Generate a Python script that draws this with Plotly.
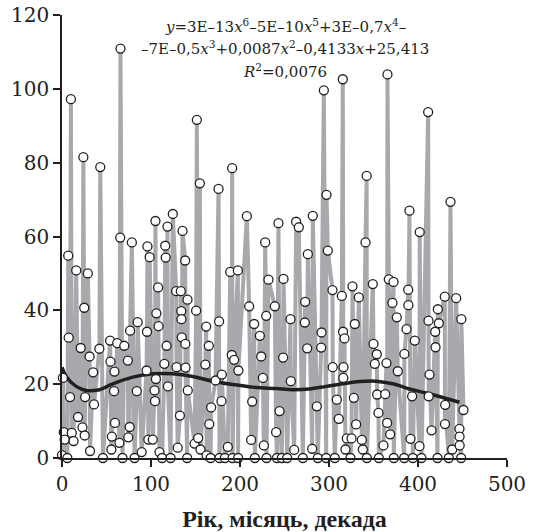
import plotly.graph_objects as go

x_vals = [0, 1, 2, 3, 6, 7, 7.5, 9, 10, 11, 13, 16, 18, 21, 23, 24, 25, 25.5, 26, 29, 31, 31.5, 35, 36, 42, 43, 46,
          54, 54.5, 55.5, 56, 58.5, 59, 59.5, 62, 64.5, 65.4, 65.7, 68, 70, 74, 74.5, 76, 76.5, 78.5, 81.5, 84, 85,
          89.5, 95, 95.5, 96, 97, 98.5, 102, 104, 104.5, 105, 105.5, 106, 108, 108.5, 109.5, 112.5, 115, 116, 116.5,
          117.5, 118.5, 119, 122, 124.5, 128.3, 128.7, 130, 132.5, 133.5, 134, 134.2, 134.5, 135.4, 138.4, 138.6,
          138.8, 140.6, 141, 141.3, 149, 150.7, 151.5, 153, 154.9, 155.6, 161, 162, 162.5, 165, 165.5, 167, 167.6,
          172.5, 175.9, 176.5, 177, 179.2, 179.6, 183, 186.3, 189, 190.8, 191.2, 191.6, 193.4, 197.6, 197.9, 198.2,
          207.7, 210.3, 212.5, 213.7, 215.9, 216.7, 222.3, 223.8, 225.7, 226.8, 228.3, 229.4, 229.8, 232, 239.1,
          240.6, 241.5, 243.2, 244.4, 247, 248.5, 248.9, 253, 256.7, 257.1, 260.9, 263.1, 266.1, 270.6, 272.8,
          273.2, 275.5, 276.2, 281.1, 281.8, 286.3, 287.4, 291.2, 291.6, 294.2, 296.8, 297.2, 298.7, 303.9, 304.2,
          306.5, 308.8, 311, 314.4, 315.5, 315.8, 316.1, 316.3, 317.4, 318.5, 320, 324.1, 325.3, 326.4, 327.9, 329,
          330.5, 333.5, 336.9, 338, 341, 342.3, 342.5, 349.2, 350, 351.5, 353.7, 354.1, 355.6, 356, 361.2, 363.1,
          364.6, 365.3, 365.7, 367.2, 368.7, 371.3, 372.5, 372.8, 376.2, 377.3, 384.5, 384.7, 387.1, 389, 389.2,
          390.4, 391.6, 393.4, 394.2, 396.4, 401.7, 401.9, 403.9, 411.4, 411.8, 412, 412.9, 415.2, 419.3, 419.7,
          421.9, 422.3, 423.4, 430.1, 430.3, 430.5, 434.6, 436.5, 438.4, 442.9, 446.6, 446.7, 446.8, 448.5, 448.7,
          451.1]
y_vals = [0.8, 21.7, 7.0, 5.0, 0, 54.8, 32.6, 16.5, 97.2, 6.8, 4.6, 50.8, 11.1, 29.8, 8.3, 81.5, 40.7, 6.1, 16.5, 50,
          27.5, 1.9, 23.2, 14.5, 29.6, 78.8, 0,
          31.8, 26.1, 2.3, 5.8, 18.1, 23.4, 9.5, 31.1, 4.1, 59.7, 110.9, 0, 30.4, 26.4, 5.6, 8.4, 34.5, 58.4, 0, 18.1,
          36.8, 1.6, 23.7, 34.2, 57.3, 5, 54.4, 5, 18.3, 15.4, 64.2, 21.4, 39.2, 46.2, 35.7, 1.6, 0, 25.5, 57.5, 54.3,
          30.4, 62.7, 19.4, 0, 66.1, 45.2, 24.6, 2.8, 11.5, 45.2, 39.8, 37.6, 32.7, 61.5, 53.5, 30.9,
          24.5, 0, 42.9, 18.3, 3.9, 39.9, 91.6, 5.4, 74.4, 2.3, 25.3, 35.6, 0.7, 30.4, 9.2, 0, 13.7,
          21, 72.9, 37, 0, 15.4, 22.6, 0, 3, 50.4, 27.9, 78.5, 0, 26.6, 50.8, 0, 23.7,
          65.5, 41.1, 4.9, 15.3, 36.3, 0, 33.1, 27.5, 21.7, 3.4, 58.4, 38.5, 0, 48.3, 41.1,
          7, 0, 63.6, 12.7, 0, 27.2, 48.5, 0, 37.6, 20.8, 2.2, 64, 62.5, 0, 36.7,
          42.3, 29.7, 55.2, 2.5, 65.6, 14, 0, 29.9, 34, 99.6, 0, 71.3, 56.2, 45.5, 24.6,
          0, 15.8, 10.6, 43.9, 102.6, 34.2, 21.7, 24.6, 32.4, 2.3, 5.3, 0, 5.3, 46.5, 16.3, 36.3,
          9.1, 43.5, 4.9, 2.3, 58.4, 76.4, 0, 47.1, 30.9, 25.5, 28.1, 17.2, 12.2, 0, 3.4, 17.3,
          25.7, 9.5, 103.9, 48.4, 6.4, 42, 47.7, 0, 38.1, 23.5, 0, 28.2, 34.9, 45.6, 41.4,
          67, 5.2, 16.7, 0, 31.8, 3.2, 61.2, 0, 93.7, 37.2, 16.7, 22.6, 7.5, 34.2, 30,
          0, 40.3, 36.5, 43.7, 9.2, 14.4, 0, 69.4, 2.3, 43.3, 7.9, 5.8, 3.4, 0, 37.6,
          13]

# polynomial trend line
trend_x = [0, 4.7, 15.9, 27.2, 42.1, 57.1, 79.6, 102, 124.5, 146.9, 169.5, 192, 214.4, 240.6, 259.4, 278,
           296.8, 315.5, 334.3, 353, 371.7, 390.4, 409.2, 427.9, 446.6]
trend_y = [24.6, 22.1, 19.4, 18.3, 18.5, 20.1, 21.9, 22.8, 22.8, 22.1, 20.8, 19.9, 19.2, 18.8, 18.5, 18.7,
           19.4, 20.1, 20.7, 20.8, 20.1, 18.7, 17.6, 16.4, 15.1]

x_ticks = [0, 100, 200, 300, 400, 500]
y_ticks = [0, 20, 40, 60, 80, 100, 120]

eq_lines = [
    "<i>y</i>=3E–13<i>x</i><sup>6</sup>–5E–10<i>x</i><sup>5</sup>+3E–0,7<i>x</i><sup>4</sup>–",
    "–7E–0,5<i>x</i><sup>3</sup>+0,0087<i>x</i><sup>2</sup>–0,4133<i>x</i>+25,413",
    "<i>R</i><sup>2</sup>=0,0076",
]
x_title = "Рік, місяць, декада"

ink = "#231f20"
serif = "DejaVu Serif"

fig = go.Figure()
fig.add_trace(go.Scatter(x=x_vals, y=y_vals, mode="lines",
                         line=dict(color="#a7a9ac", width=4), cliponaxis=False, hoverinfo="skip"))
fig.add_trace(go.Scatter(x=trend_x, y=trend_y, mode="lines",
                         line=dict(color=ink, width=3.5, shape="spline"), cliponaxis=False))
fig.add_trace(go.Scatter(x=x_vals, y=y_vals, mode="markers",
                         marker=dict(size=9, color="white", line=dict(color=ink, width=1.3)),
                         cliponaxis=False))

eq_y = [117, 111, 104.8]
for txt, yy in zip(eq_lines, eq_y):
    fig.add_annotation(x=251, y=yy, xref="x", yref="y", text=txt, showarrow=False,
                       xanchor="center", yanchor="middle",
                       font=dict(family=serif, size=15, color=ink))

axis_common = dict(showline=True, linecolor=ink, linewidth=1.5, ticks="outside", ticklen=7,
                   tickwidth=1.5, tickcolor=ink, showgrid=False, zeroline=False, automargin=False,
                   tickfont=dict(family=serif, size=20, color=ink))

fig.update_layout(
    width=537, height=532,
    margin=dict(l=62, r=30, t=15, b=74),
    paper_bgcolor="white", plot_bgcolor="white",
    showlegend=False,
    xaxis=dict(range=[0, 500], tickvals=x_ticks, **axis_common,
               title=dict(text="<b>" + x_title + "</b>", standoff=18,
                          font=dict(family="Liberation Serif", size=24, color=ink))),
    yaxis=dict(range=[0, 120], tickvals=y_ticks, **axis_common),
)

fig.write_html("out.html")
